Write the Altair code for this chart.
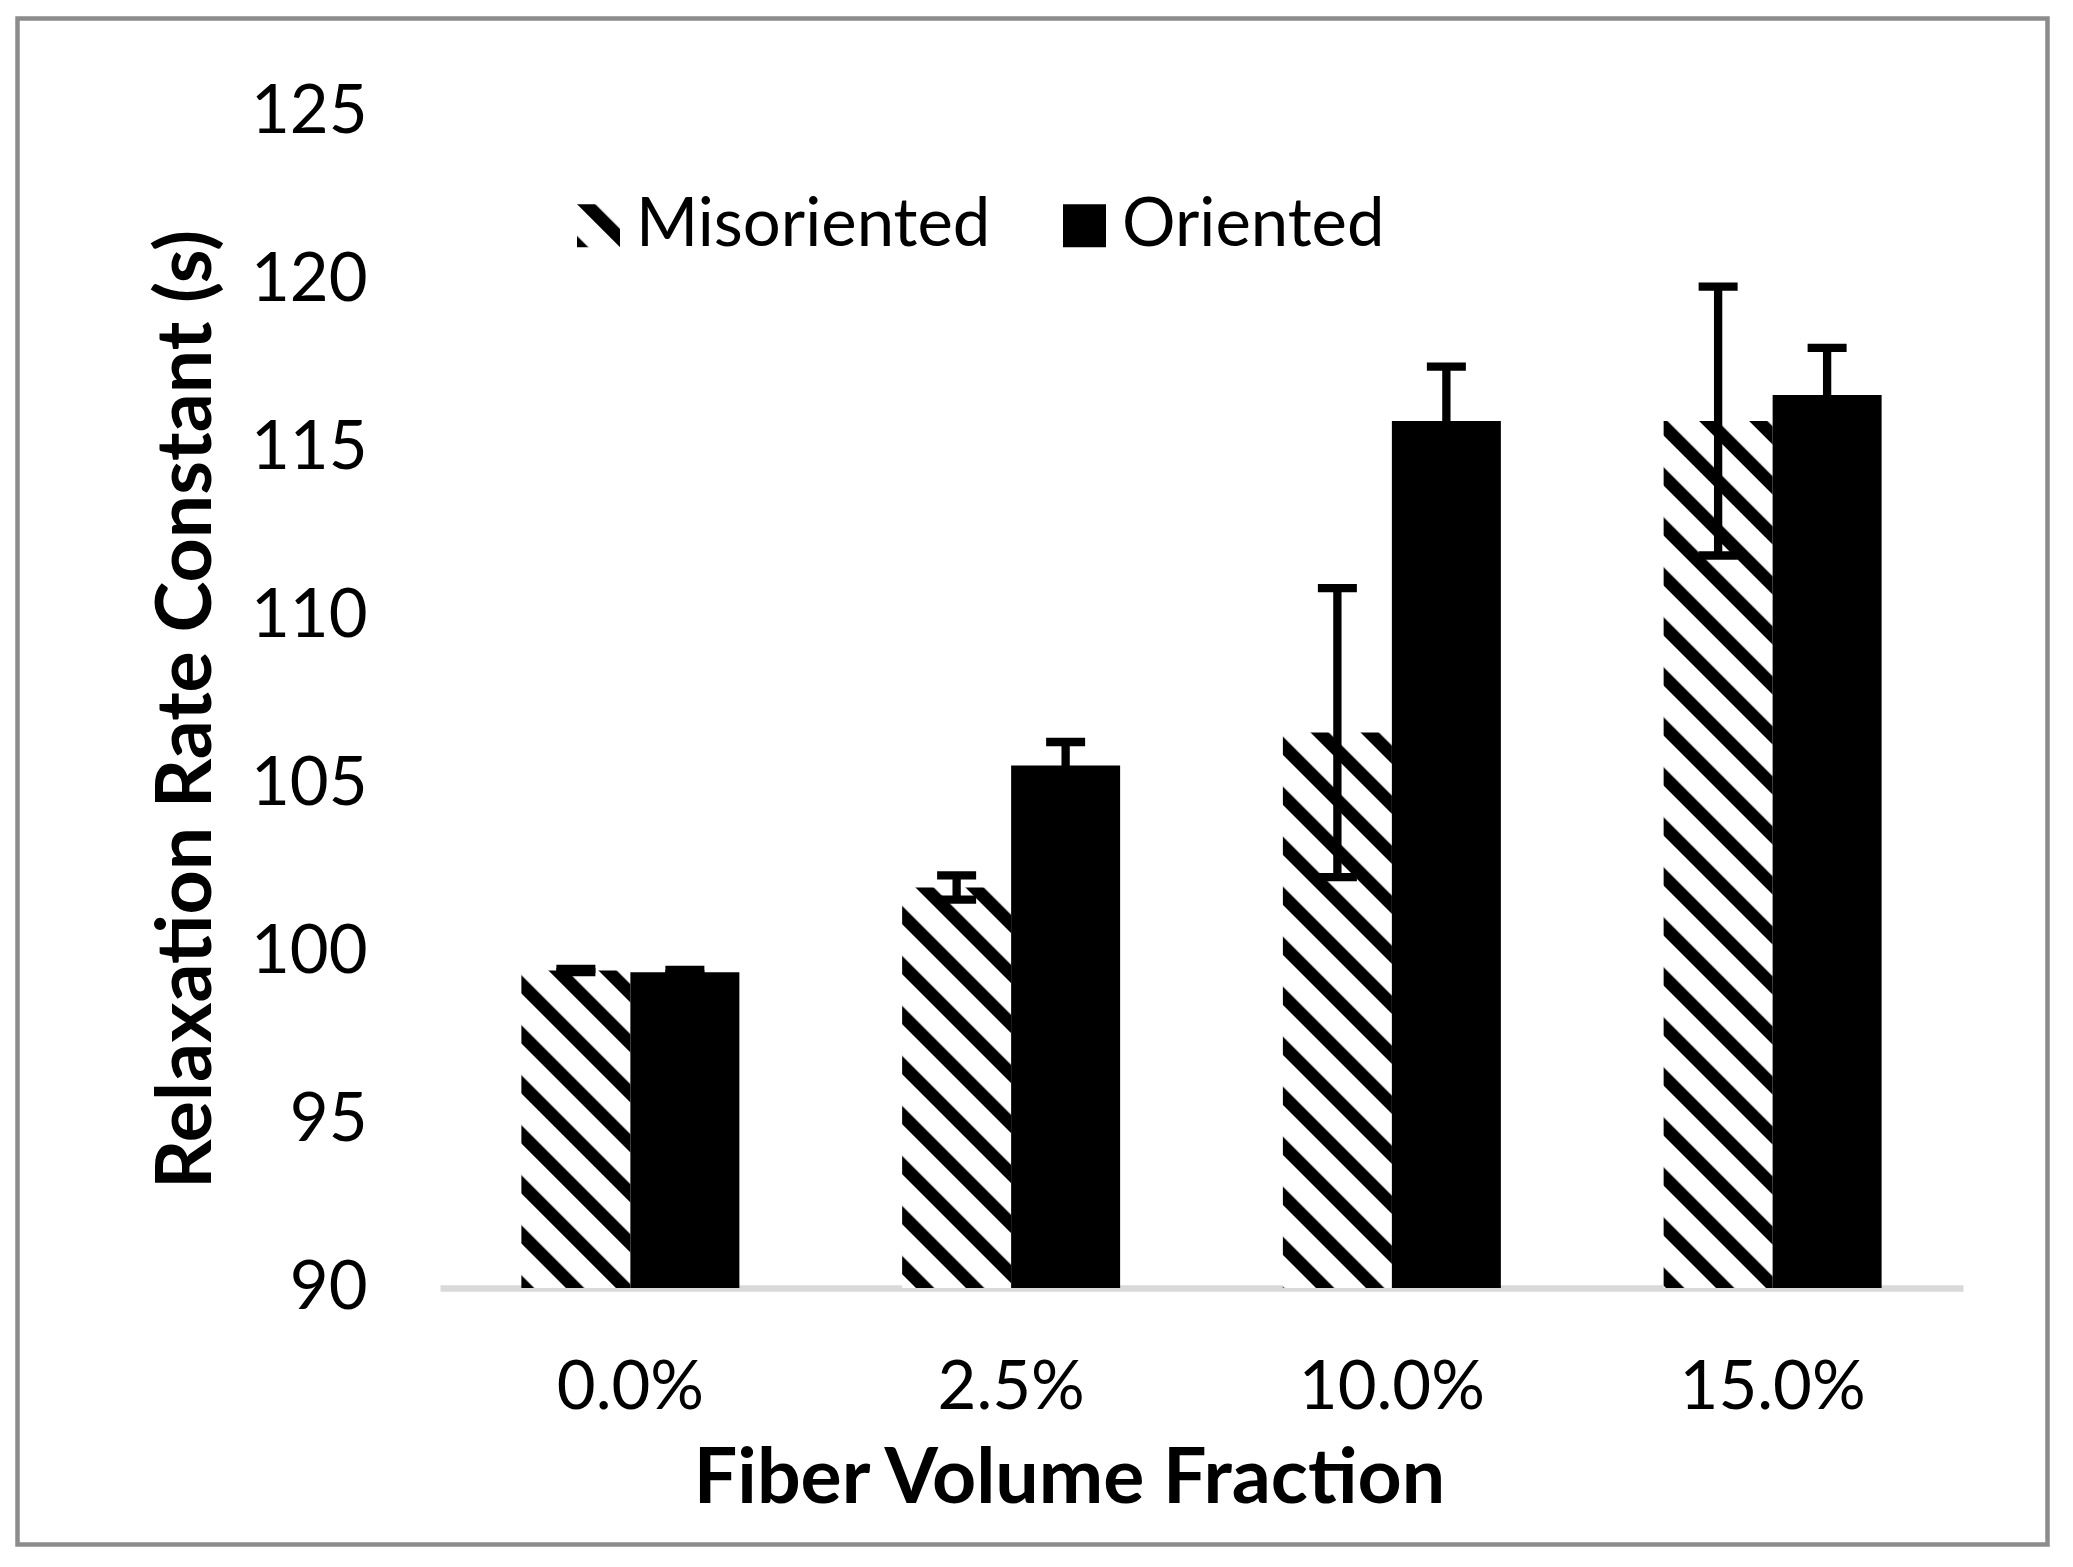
import altair as alt
import pandas as pd
import altair.utils.html as _h

# ---------------- data ----------------
categories = ["0.0%", "2.5%", "10.0%", "15.0%"]
series_names = ["Misoriented", "Oriented"]
misoriented = [99.45, 101.92, 106.53, 115.80]
misoriented_err = [0.05, 0.36, 4.30, 4.00]
oriented = [99.40, 105.55, 115.80, 116.58]
oriented_err = [0.07, 0.70, 1.62, 1.40]
y_ticks = [90, 95, 100, 105, 110, 115, 120, 125]

rows = []
for c, v, e in zip(categories, misoriented, misoriented_err):
    rows.append({"cat": c, "series": "Misoriented", "value": v, "lo": v - e, "hi": v + e})
for c, v, e in zip(categories, oriented, oriented_err):
    rows.append({"cat": c, "series": "Oriented", "value": v, "lo": v - e, "hi": v + e})
df = pd.DataFrame(rows)

# ---------------- hatch pattern definition (SVG paint server) ----------------
PATTERN_SVG = (
    '<svg width="0" height="0" style="position:absolute;left:0;top:0">'
    '<defs><pattern id="hatch" patternUnits="userSpaceOnUse" width="35.36" height="35.36" '
    'patternTransform="rotate(-45)">'
    '<rect x="0" y="0" width="35.36" height="35.36" fill="#ffffff"/>'
    '<rect x="0" y="0" width="13" height="35.36" fill="#000000"/>'
    '</pattern></defs></svg>'
)


class _PatternTemplate:
    def __init__(self, base):
        self.base = base

    def render(self, *args, **kwargs):
        html = self.base.render(*args, **kwargs)
        if "<body>" in html:
            return html.replace("<body>", "<body>\n" + PATTERN_SVG, 1)
        return html.replace("</head>", "</head>\n" + PATTERN_SVG, 1)


try:
    for _k in list(_h.TEMPLATES):
        _h.TEMPLATES[_k] = _PatternTemplate(_h.TEMPLATES[_k])
except Exception:
    pass

FONT = "Lato"

x_enc = alt.X(
    "cat:N",
    sort=categories,
    scale=alt.Scale(paddingInner=0.4275, paddingOuter=0.21375),
    axis=alt.Axis(
        title="Fiber Volume Fraction",
        labelAngle=0,
        domain=True,
        domainColor="#d9d9d9",
        domainWidth=6.7,
        ticks=False,
        tickSize=0,
        grid=False,
        labelPadding=120,
        labelBaseline="alphabetic",
        labelFontSize=67,
        labelFont=FONT,
        labelColor="#000000",
        labelLimit=0,
        titleFont=FONT,
        titleFontSize=77,
        titleFontWeight="bold",
        titleColor="#000000",
        titleX=629,
        titleY=214,
        titleBaseline="alphabetic",
        titleAlign="center",
        titleLimit=0,
    ),
)
xoff = alt.XOffset("series:N", sort=series_names, scale=alt.Scale(paddingInner=0, paddingOuter=0))
y_scale = alt.Scale(domain=[90, 125], nice=False, zero=False)

bars = alt.Chart(df).mark_bar(strokeWidth=0).encode(
    x=x_enc,
    xOffset=xoff,
    y=alt.Y(
        "value:Q",
        scale=y_scale,
        axis=alt.Axis(
            title="Relaxation Rate Constant (s)",
            values=y_ticks,
            domain=False,
            ticks=False,
            tickSize=0,
            grid=False,
            labelPadding=73,
            labelFontSize=67,
            labelFont=FONT,
            labelColor="#000000",
            labelLimit=0,
            titleFont=FONT,
            titleFontSize=77,
            titleFontWeight="bold",
            titleColor="#000000",
            titleAngle=-90,
            titleX=-230,
            titleY=597,
            titleBaseline="alphabetic",
            titleAlign="center",
            titleLimit=0,
        ),
    ),
    y2=alt.datum(90),
    color=alt.Color(
        "series:N",
        sort=series_names,
        scale=alt.Scale(domain=series_names, range=["url(#hatch)", "#000000"]),
        legend=alt.Legend(
            title=None,
            orient="none",
            direction="horizontal",
            legendX=125,
            legendY=80,
            symbolType="square",
            symbolSize=1849,
            symbolStrokeWidth=0,
            symbolOpacity=1,
            labelFont=FONT,
            labelFontSize=67,
            labelColor="#000000",
            labelLimit=0,
            labelOffset=4,
            columnPadding=60,
            padding=0,
        ),
    ),
)

rules = alt.Chart(df).mark_rule(color="#000000", strokeWidth=8.3, opacity=1).encode(
    x=alt.X("cat:N", sort=categories),
    xOffset=xoff,
    y=alt.Y("lo:Q", scale=y_scale),
    y2="hi:Q",
)

caps_hi = alt.Chart(df).mark_tick(color="#000000", thickness=8.3, size=39, opacity=1).encode(
    x=alt.X("cat:N", sort=categories),
    xOffset=xoff,
    y=alt.Y("hi:Q", scale=y_scale),
)
caps_lo = alt.Chart(df).mark_tick(color="#000000", thickness=8.3, size=39, opacity=1).encode(
    x=alt.X("cat:N", sort=categories),
    xOffset=xoff,
    y=alt.Y("lo:Q", scale=y_scale),
)

frame = alt.Chart(pd.DataFrame({"a": [0]})).mark_rect(
    fill=None, fillOpacity=0, stroke="#8c8c8c", strokeWidth=4.5
).encode(
    x=alt.value(-422.5),
    x2=alt.value(1607.5),
    y=alt.value(-93.5),
    y2=alt.value(1432.5),
)

chart = (
    alt.layer(bars, rules, caps_hi, caps_lo, frame)
    .properties(
        width=1523,
        height=1176,
        padding={"left": 432, "top": 104, "right": 102, "bottom": 270},
        autosize=alt.AutoSizeParams(type="none"),
        background="#ffffff",
    )
    .configure_view(stroke=None)
)

chart.save("out.html", embed_options={"renderer": "svg", "actions": False})
